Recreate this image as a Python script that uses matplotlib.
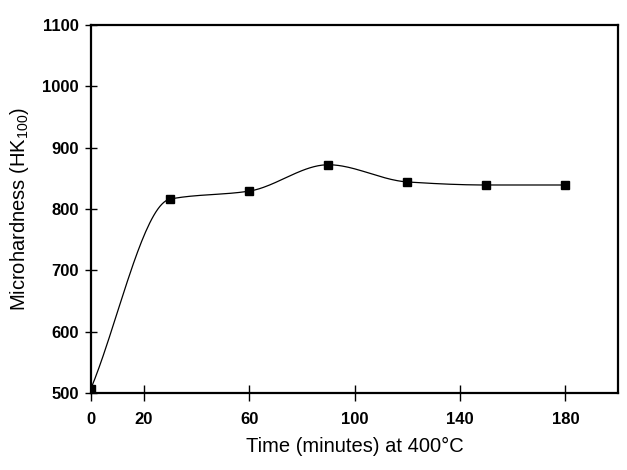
import numpy as np
import matplotlib
matplotlib.use("Agg")
import matplotlib.pyplot as plt

time_min = [0, 30, 60, 90, 120, 150, 180]
hardness = [507, 816, 829, 872, 844, 839, 839]

x_ticks = [0, 20, 60, 100, 140, 180]
y_ticks = [500, 600, 700, 800, 900, 1000, 1100]

plt.rcParams['font.family'] = ['Liberation Sans', 'DejaVu Sans']
plt.rcParams['mathtext.fontset'] = 'custom'
plt.rcParams['mathtext.rm'] = 'Liberation Sans'


def pchip_curve(x, y, n=40):
    # monotone cubic (Fritsch-Carlson) through the points, only for drawing
    x = np.asarray(x, float)
    y = np.asarray(y, float)
    h = np.diff(x)
    d = np.diff(y) / h
    m = np.zeros_like(y)
    for k in range(1, len(x) - 1):
        if d[k - 1] * d[k] > 0:
            w1 = 2 * h[k] + h[k - 1]
            w2 = h[k] + 2 * h[k - 1]
            m[k] = (w1 + w2) / (w1 / d[k - 1] + w2 / d[k])
    m[0] = d[0]
    m[-1] = d[-1]
    xs, ys = [], []
    for k in range(len(x) - 1):
        t = np.linspace(0, 1, n)
        h00 = 2 * t**3 - 3 * t**2 + 1
        h10 = t**3 - 2 * t**2 + t
        h01 = -2 * t**3 + 3 * t**2
        h11 = t**3 - t**2
        xs.append(x[k] + t * h[k])
        ys.append(h00 * y[k] + h10 * h[k] * m[k] + h01 * y[k + 1] + h11 * h[k] * m[k + 1])
    return np.concatenate(xs), np.concatenate(ys)


fig = plt.figure(figsize=(6.27, 4.70), dpi=100)
ax = fig.add_axes([0.145, 0.164, 0.841, 0.783])

cx, cy = pchip_curve(time_min, hardness)
ax.plot(cx, cy, color='black', lw=0.9)
ax.plot(time_min, hardness, 's', color='black', markersize=5.5)

ax.set_xlim(0, 200)
ax.set_ylim(500, 1100)
ax.set_xticks(x_ticks)
ax.set_yticks(y_ticks)

for s in ax.spines.values():
    s.set_linewidth(1.6)

ax.tick_params(axis='x', direction='inout', length=12, width=1.0, pad=8)
ax.tick_params(axis='y', direction='inout', length=9, width=1.0, pad=4)
for lab in ax.get_xticklabels() + ax.get_yticklabels():
    lab.set_fontsize(12)
    lab.set_fontweight('bold')

ax.set_xlabel("Time (minutes) at 400°C", fontsize=14.5, labelpad=7)
ax.set_ylabel("Microhardness (HK$_{100}$)", fontsize=14.5, labelpad=8)

fig.savefig("out.png", dpi=100)
